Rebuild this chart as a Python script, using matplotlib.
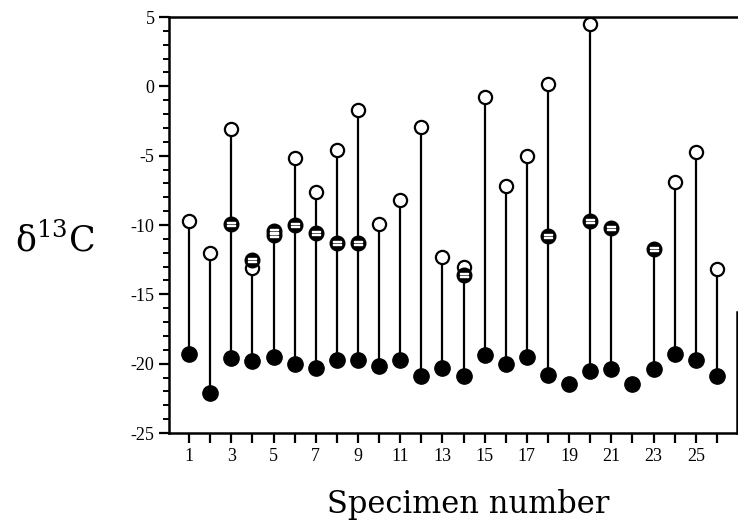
import matplotlib
matplotlib.use('Agg')
import matplotlib.pyplot as plt
import numpy as np
from matplotlib.ticker import MultipleLocator

plt.rcParams['mathtext.fontset'] = 'dejavuserif'

nan = np.nan
specimen = np.arange(1, 27)
# bottom (filled) points
filled = [-19.3, -22.1, -19.6, -19.8, -19.5, -20.0, -20.3, -19.7, -19.7, -20.2,
          -19.7, -20.9, -20.3, -20.9, -19.4, -20.0, -19.5, -20.8, -21.5, -20.5,
          -20.4, -21.5, -20.4, -19.3, -19.7, -20.9]
# open circles
open_pts = [-9.7, -12.0, -3.1, -13.1, nan, -5.2, -7.6, -4.6, -1.7, -9.9,
            -8.2, -2.9, -12.3, -13.0, -0.8, -7.2, -5.0, 0.2, nan, 4.5,
            nan, nan, nan, -6.9, -4.7, -13.2]
# half filled (striped) circles
striped = [nan, nan, -9.9, -12.5, -10.4, -10.0, -10.6, -11.3, -11.3, nan,
           nan, nan, nan, -13.6, nan, nan, nan, -10.8, nan, -9.7,
           -10.2, nan, -11.7, nan, nan, nan]
striped2 = [nan, nan, nan, nan, -10.75, nan, nan, nan, nan, nan,
            nan, nan, nan, nan, nan, nan, nan, nan, nan, nan,
            nan, nan, nan, nan, nan, nan]

tops = np.nanmax(np.vstack([filled, open_pts, striped, striped2]), axis=0)

fig = plt.figure(figsize=(7.38, 5.27), dpi=100)
ax = fig.add_axes([169 / 738, 1 - 433 / 527, (737 - 169) / 738, (433 - 17) / 527])

ax.vlines(specimen, filled, tops, color='black', lw=1.6, zorder=1)
ax.plot(specimen, filled, 'o', color='black', ms=11, zorder=3)
ax.plot(specimen, open_pts, 'o', mfc='white', mec='black', mew=1.6, ms=9.5, zorder=3)
for s in (striped, striped2):
    ax.plot(specimen, s, 'o', color='black', ms=10.5, zorder=3)
    ax.plot(specimen, s, marker='$=$', ls='none', color='white', ms=6, zorder=4)

ax.set_xlim(0.05, 26.95)
ax.set_ylim(-25, 5)
ax.set_xticks(specimen)
ax.set_xticklabels([str(v) if v % 2 == 1 else '' for v in specimen])
ax.yaxis.set_minor_locator(MultipleLocator(1))
ax.set_yticks(np.arange(-25, 6, 5))
ax.set_yticklabels([f'{int(v)}' for v in np.arange(-25, 6, 5)])

for sp in ['left', 'bottom', 'top', 'right']:
    ax.spines[sp].set_linewidth(1.8)
ax.spines['right'].set_bounds(-25, -16.3)

ax.tick_params(axis='both', which='major', direction='out', width=1.6, length=7,
               labelsize=13)
ax.tick_params(axis='y', which='minor', direction='out', width=1.4, length=4)
for lab in ax.get_xticklabels() + ax.get_yticklabels():
    lab.set_fontfamily('Liberation Serif')

ax.set_xlabel('Specimen number', fontsize=22, family='DejaVu Serif', va='center')
ax.xaxis.set_label_coords((468 - 169) / 568, (433 - 505) / 416)
fig.text(55 / 738, 1 - 240 / 527, r'δ$^{\mathrm{13}}$C', fontsize=25, family='DejaVu Serif',
         ha='center', va='center')

fig.savefig('out.png', dpi=100)
